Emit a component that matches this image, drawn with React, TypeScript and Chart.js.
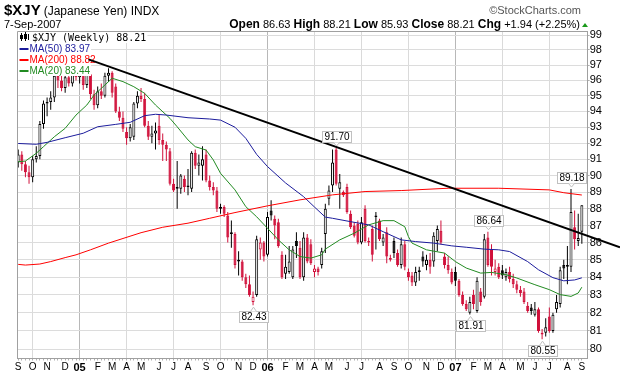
import React, { useEffect, useRef } from 'react';
import { Chart, registerables } from 'chart.js';

Chart.register(...registerables);

const symbol = '$XJY';
const symbolName = '(Japanese Yen) INDX';
const lastDate = '7-Sep-2007';
const weekStart = '2004-09-06';

const opens = [
  90.8, 91.3, 90.7, 90.2, 89.9, 91.0, 91.2, 93.2, 94.5, 94.6,
  94.9, 96.3, 96.0, 95.5, 96.2, 95.8, 96.7, 96.2, 97.2, 95.7,
  96.4, 95.1, 94.4, 95.3, 95.0, 96.3, 96.5, 95.6, 94.0, 93.6,
  92.7, 92.3, 92.4, 94.5, 95.0, 94.8, 93.1, 92.4, 92.6, 93.1,
  92.2, 91.9, 91.5, 89.5, 89.3, 89.2, 89.8, 89.3, 89.2, 91.4,
  90.6, 90.6, 91.3, 89.7, 89.3, 89.1, 88.0, 88.1, 87.6, 86.6,
  86.5, 85.0, 84.9, 84.0, 83.6, 82.6, 83.0, 85.6, 86.0, 85.3,
  87.9, 87.4, 87.2, 85.3, 84.2, 84.3, 84.0, 86.1, 85.7, 84.0,
  86.3, 85.9, 84.3, 84.5, 84.7, 86.5, 88.6, 89.4, 91.6, 89.2,
  89.0, 89.3, 87.7, 87.0, 87.1, 86.0, 88.0, 86.1, 86.8, 87.6,
  87.3, 86.0, 86.6, 85.1, 86.1, 85.4, 84.7, 85.9, 84.3, 84.1,
  83.7, 84.3, 85.2, 84.7, 85.0, 84.9, 86.1, 86.7, 85.2, 84.7,
  84.3, 84.3, 83.8, 83.0, 82.5, 82.0, 83.0, 82.1, 83.2, 82.9,
  86.3, 85.6, 84.3, 84.6, 84.4, 84.0, 84.3, 83.9, 83.6, 83.3,
  83.2, 82.4, 82.3, 81.9, 82.2, 80.9, 80.9, 81.8, 81.0, 82.2,
  82.5, 84.7, 84.6, 84.6, 86.9, 86.1, 86.63,
];
const highs = [
  91.6, 91.5, 90.9, 90.6, 91.2, 91.8, 93.4, 94.7, 94.9, 95.3,
  96.6, 96.9, 96.6, 96.4, 97.0, 96.9, 97.3, 97.6, 97.5, 96.8,
  96.6, 95.4, 95.6, 95.8, 96.5, 96.8, 96.6, 95.8, 94.3, 94.0,
  93.0, 93.2, 94.6, 95.3, 95.5, 95.2, 93.4, 93.1, 93.3, 93.8,
  92.6, 92.1, 91.7, 89.8, 90.9, 90.1, 90.0, 90.4, 91.5, 91.6,
  91.3, 91.8, 91.6, 90.0, 89.6, 89.3, 88.3, 88.2, 87.8, 87.3,
  86.6, 85.5, 85.0, 84.2, 84.1, 83.2, 86.4, 86.3, 86.1, 87.8,
  88.5, 87.6, 87.4, 85.5, 85.3, 85.8, 85.8, 86.6, 86.1, 86.6,
  86.5, 86.2, 84.7, 84.6, 85.7, 88.3, 89.4, 91.6, 91.7, 90.1,
  89.1, 89.5, 87.9, 87.2, 87.3, 87.5, 88.2, 86.3, 87.0, 87.8,
  87.4, 86.5, 86.9, 85.3, 86.3, 85.6, 86.3, 86.1, 84.5, 84.3,
  84.6, 84.6, 85.5, 85.3, 85.4, 86.6, 87.0, 87.3, 85.4, 85.2,
  84.5, 84.6, 83.9, 83.2, 82.7, 82.9, 83.3, 84.0, 83.4, 86.5,
  86.64, 85.9, 85.0, 84.8, 84.7, 84.5, 84.6, 84.2, 83.8, 83.5,
  83.4, 82.6, 82.5, 82.6, 82.3, 81.1, 81.7, 82.3, 82.0, 83.0,
  84.6, 85.0, 85.8, 89.18, 87.9, 87.7, 88.21,
];
const lows = [
  90.5, 90.3, 89.9, 89.5, 89.6, 90.8, 91.0, 92.9, 93.7, 94.1,
  94.6, 95.5, 95.3, 95.2, 95.6, 95.6, 96.0, 95.8, 95.4, 95.5,
  94.8, 94.1, 94.2, 94.8, 94.9, 95.9, 94.9, 93.9, 93.4, 92.7,
  91.9, 92.1, 92.2, 94.2, 94.6, 93.0, 92.2, 92.0, 91.6, 91.9,
  90.9, 90.9, 89.4, 89.0, 88.0, 88.9, 89.0, 88.8, 89.0, 90.4,
  90.0, 89.7, 89.6, 89.1, 88.8, 87.8, 87.7, 87.5, 86.0, 85.7,
  84.5, 84.1, 83.8, 83.4, 82.9, 82.43, 82.9, 85.0, 84.9, 85.2,
  87.3, 86.2, 85.7, 83.9, 83.9, 84.2, 83.9, 85.1, 83.9, 83.8,
  84.8, 84.7, 84.0, 84.1, 84.5, 85.4, 88.2, 89.0, 89.4, 88.0,
  88.7, 87.7, 86.8, 86.3, 85.9, 85.9, 86.0, 85.8, 84.9, 85.6,
  86.1, 85.8, 84.8, 84.9, 85.1, 84.6, 84.5, 84.4, 83.8, 83.5,
  83.5, 83.8, 84.6, 84.4, 84.2, 84.6, 85.5, 85.9, 84.5, 84.2,
  83.6, 83.5, 82.9, 82.4, 82.1, 81.91, 82.2, 82.0, 82.4, 82.8,
  84.6, 84.1, 84.1, 83.9, 83.9, 83.8, 83.7, 83.4, 83.1, 82.9,
  82.5, 82.0, 81.9, 81.8, 80.9, 80.55, 80.7, 80.9, 80.9, 82.0,
  82.3, 83.9, 83.6, 84.3, 85.6, 85.8, 85.93,
];
const closes = [
  91.3, 90.7, 90.2, 89.9, 91.0, 91.2, 93.2, 94.5, 94.6, 94.9,
  96.3, 96.0, 95.5, 96.2, 95.8, 96.7, 96.2, 97.2, 95.7, 96.4,
  95.1, 94.4, 95.3, 95.0, 96.3, 96.5, 95.2, 94.0, 93.6, 92.9,
  92.3, 93.0, 94.5, 95.0, 94.8, 93.1, 92.4, 92.6, 92.8, 92.2,
  91.9, 91.6, 89.5, 89.1, 89.2, 90.0, 89.3, 89.4, 91.4, 90.6,
  90.8, 91.0, 89.7, 89.3, 89.1, 88.0, 88.1, 87.7, 86.3, 86.5,
  84.7, 84.9, 84.0, 83.6, 83.0, 82.9, 86.2, 86.0, 85.2, 87.5,
  87.6, 87.0, 85.8, 84.0, 84.6, 84.9, 85.6, 85.8, 84.0, 86.3,
  84.9, 84.8, 84.5, 84.3, 85.5, 88.0, 89.1, 90.8, 89.5, 89.6,
  88.8, 87.8, 86.9, 86.4, 86.0, 87.2, 86.1, 86.0, 85.3, 87.5,
  86.2, 86.3, 85.2, 85.0, 85.4, 84.7, 85.9, 84.6, 84.0, 83.7,
  84.3, 84.4, 84.9, 85.0, 84.6, 86.4, 86.8, 86.0, 84.7, 84.4,
  83.7, 83.8, 83.0, 82.5, 82.2, 82.6, 82.5, 83.8, 82.6, 86.2,
  84.7, 84.6, 84.5, 84.0, 84.1, 84.3, 83.9, 83.6, 83.3, 83.1,
  82.6, 82.1, 82.1, 82.2, 81.0, 80.8, 81.2, 81.0, 81.9, 82.6,
  84.4, 84.5, 84.7, 87.8, 86.2, 86.27, 88.21,
];

// moving averages: [week index, value]
const ma50 = [
  [0, 91.98], [5, 91.93], [8, 92.05], [13, 92.34], [18, 92.62], [22, 93.03], [27, 93.18],
  [31, 93.31], [35, 93.73], [38, 93.82], [41, 93.77], [47, 93.6], [53, 93.52], [56, 93.45],
  [60, 93.0], [63, 92.3], [66, 91.3], [69, 90.55], [74, 89.55], [79, 88.72], [82, 88.1],
  [85, 87.5], [87, 87.43], [92, 87.23], [97, 87.04], [101, 86.64], [106, 86.16], [110, 86.06],
  [115, 85.97], [120, 85.81], [124, 85.73], [129, 85.62], [133, 85.58], [136, 85.48],
  [141, 84.9], [144, 84.43], [148, 83.98], [151, 83.8], [154, 83.85], [156, 83.97],
];
const ma200 = [
  [0, 84.74], [2, 84.7], [6, 84.76], [9, 84.9], [13, 85.13], [16, 85.29], [20, 85.58],
  [25, 85.97], [34, 86.58], [40, 86.9], [47, 87.14], [53, 87.43], [60, 87.77], [69, 88.17],
  [78, 88.53], [87, 88.83], [96, 89.03], [106, 89.09], [119, 89.23], [133, 89.23],
  [147, 89.13], [151, 88.96], [156, 88.82],
];
const ma20 = [
  [0, 90.85], [2, 90.89], [5, 91.37], [7, 91.78], [10, 92.4], [13, 92.93], [16, 93.77],
  [19, 94.41], [21, 95.05], [24, 95.7], [26, 96.14], [29, 95.92], [32, 95.59], [35, 95.16],
  [38, 94.41], [42, 93.56], [44, 93.03], [47, 92.2], [49, 91.78], [52, 91.57], [54, 90.96],
  [56, 90.14], [60, 89.13], [63, 88.12], [66, 87.52], [69, 86.84], [72, 86.16], [75, 85.58],
  [78, 85.19], [81, 85.1], [84, 85.29], [85, 85.62], [89, 86.16], [93, 86.55], [97, 87.04],
  [101, 87.29], [104, 87.29], [107, 86.93], [108, 86.35], [109, 85.97], [113, 85.58],
  [118, 85.39], [121, 84.9], [124, 84.53], [128, 84.24], [131, 84.28], [135, 84.15],
  [138, 83.96], [143, 83.58], [147, 83.3], [150, 83.02], [153, 82.92], [155, 83.11], [156, 83.44],
];
const trendLine = [[19.47, 97.38], [166.56, 85.73]];
const highTags = [88, 130, 153];
const lowTags = [65, 125, 145];
const yTickValues = [80, 81, 82, 83, 84, 85, 86, 87, 88, 89, 90, 91, 92, 93, 94, 95, 96, 97, 98, 99];
const monthInitials = ['J', 'F', 'M', 'A', 'M', 'J', 'J', 'A', 'S', 'O', 'N', 'D'];

const UP = '#000000';
const DOWN = '#d0103a';
const C50 = '#1c1c9c';
const C200 = '#ff0000';
const C20 = '#228b22';
const FONT = '"Liberation Sans", Arial, sans-serif';

const n = closes.length;
const candleColor = closes.map((c, i) => (i === 0 || c >= closes[i - 1] ? UP : DOWN));
const bodyFill = closes.map((c, i) => (c > opens[i] ? '#ffffff' : candleColor[i]));

const weekLabels: string[] = [];
const weekKind: number[] = []; // 0 none, 1 quarter, 2 year
(() => {
  const start = new Date(weekStart + 'T00:00:00Z').getTime();
  let prev = -1;
  for (let i = 0; i < n; i++) {
    const d = new Date(start + i * 7 * 86400000);
    const m = d.getUTCMonth();
    if (m !== prev) {
      weekLabels.push(m === 0 ? String(d.getUTCFullYear()).slice(2) : monthInitials[m]);
      weekKind.push(m === 0 ? 2 : m % 3 === 0 ? 1 : 0);
    } else {
      weekLabels.push('');
      weekKind.push(0);
    }
    prev = m;
  }
})();

const TREND_INDEX = 5;

function drawTag(ctx: CanvasRenderingContext2D, x: number, yv: number, text: string, above: boolean) {
  ctx.font = '10px ' + FONT;
  const w = Math.round(ctx.measureText(text).width + 4);
  const h = 11;
  const bx = Math.round(x - w / 2) + 0.5;
  const tip = above ? yv - 2 : yv + 2;
  const by = above ? Math.round(tip - 4 - h) + 0.5 : Math.round(tip + 4) + 0.5;
  ctx.fillStyle = '#ffffff';
  ctx.strokeStyle = '#c0c0c0';
  ctx.lineWidth = 1;
  ctx.fillRect(bx, by, w, h);
  ctx.strokeRect(bx, by, w, h);
  ctx.beginPath();
  if (above) {
    ctx.moveTo(x - 3, by + h);
    ctx.lineTo(x, tip);
    ctx.lineTo(x + 3, by + h);
  } else {
    ctx.moveTo(x - 3, by);
    ctx.lineTo(x, tip);
    ctx.lineTo(x + 3, by);
  }
  ctx.fill();
  ctx.stroke();
  ctx.fillStyle = '#000';
  ctx.textAlign = 'center';
  ctx.textBaseline = 'middle';
  ctx.fillText(text, bx + w / 2, by + h / 2 + 0.5);
}

function drawLegend(chart: any) {
  const ctx: CanvasRenderingContext2D = chart.ctx;
  const left = chart.chartArea.left;
  ctx.save();
  ctx.textBaseline = 'alphabetic';
  ctx.textAlign = 'left';
  const rows = [
    { text: `${symbol} (Weekly) ${closes[n - 1].toFixed(2)}`, color: '#000', mono: true },
    { text: `MA(50) ${ma50[ma50.length - 1][1].toFixed(2)}`, color: C50, mono: false },
    { text: `MA(200) ${ma200[ma200.length - 1][1].toFixed(2)}`, color: C200, mono: false },
    { text: `MA(20) ${ma20[ma20.length - 1][1].toFixed(2)}`, color: C20, mono: false },
  ];
  rows.forEach((r, k) => {
    const base = 41 + k * 11;
    ctx.font = r.mono ? '10px "DejaVu Sans Mono", monospace' : '10px ' + FONT;
    const tx = left + (r.mono ? 15 : 12.5);
    const tw = ctx.measureText(r.text).width;
    ctx.fillStyle = '#ffffff';
    ctx.fillRect(left + 1, base - 9, tx - left - 1 + tw + 1, 11);
    ctx.fillStyle = r.color;
    ctx.fillText(r.text, tx, base);
    if (k === 0) {
      ctx.fillStyle = '#000';
      ctx.fillRect(left + 4, base - 8, 1, 8);
      ctx.fillRect(left + 3, base - 6, 3, 4);
      ctx.fillRect(left + 8, base - 9, 1, 9);
      ctx.strokeStyle = '#000';
      ctx.lineWidth = 1;
      ctx.strokeRect(left + 7.5, base - 6.5, 2, 4);
      ctx.fillRect(left + 11, base - 7, 1, 6);
    } else {
      ctx.fillStyle = r.color;
      ctx.fillRect(left + 2.5, base - 4, 9, 2);
    }
  });
  ctx.restore();
}

const overlayPlugin = {
  id: 'overlay',
  beforeDatasetDraw(chart: any, args: any) {
    if (args.index === TREND_INDEX) drawLegend(chart);
  },
  afterDraw(chart: any) {
    const ctx: CanvasRenderingContext2D = chart.ctx;
    const { left, right, top, bottom } = chart.chartArea;
    const xs = chart.scales.x;
    const ys = chart.scales.y;
    ctx.save();
    ctx.strokeStyle = '#a0a0a0';
    ctx.lineWidth = 1;
    ctx.beginPath();
    ctx.moveTo(Math.round(left) + 0.5, bottom);
    ctx.lineTo(Math.round(left) + 0.5, Math.round(top) + 0.5);
    ctx.lineTo(right, Math.round(top) + 0.5);
    ctx.stroke();

    highTags.forEach((i) => drawTag(ctx, Math.round(xs.getPixelForValue(i)) + 0.5, ys.getPixelForValue(highs[i]), highs[i].toFixed(2), true));
    lowTags.forEach((i) => drawTag(ctx, Math.round(xs.getPixelForValue(i)) + 0.5, ys.getPixelForValue(lows[i]), lows[i].toFixed(2), false));

    ctx.textAlign = 'left';
    ctx.textBaseline = 'alphabetic';
    ctx.fillStyle = '#000';
    ctx.font = 'bold 15px ' + FONT;
    ctx.fillText(symbol, 4, 15);
    const sx = 4 + ctx.measureText(symbol).width + 3;
    ctx.font = '12px ' + FONT;
    ctx.fillText(symbolName, sx, 15);
    ctx.font = '11px ' + FONT;
    ctx.fillStyle = '#555';
    ctx.textAlign = 'right';
    ctx.fillText('\u00A9StockCharts.com', 581, 14);
    ctx.textAlign = 'left';
    ctx.fillStyle = '#000';
    ctx.font = '11px ' + FONT;
    ctx.fillText(lastDate, 4, 28);

    const o = opens[n - 1], h = highs[n - 1], l = lows[n - 1], c = closes[n - 1];
    const chg = c - closes[n - 2];
    const pct = (chg / closes[n - 2]) * 100;
    const sign = chg >= 0 ? '+' : '';
    const parts: [string, boolean][] = [
      ['Open', true], [` ${o.toFixed(2)} `, false],
      ['High', true], [` ${h.toFixed(2)} `, false],
      ['Low', true], [` ${l.toFixed(2)} `, false],
      ['Close', true], [` ${c.toFixed(2)} `, false],
      ['Chg', true], [` ${sign}${chg.toFixed(2)} (${sign}${pct.toFixed(2)}%)`, false],
    ];
    const fontOf = (b: boolean) => (b ? 'bold 12px ' : '11px ') + FONT;
    let total = 0;
    parts.forEach(([t, b]) => { ctx.font = fontOf(b); total += ctx.measureText(t).width; });
    let px = 580 - total;
    parts.forEach(([t, b]) => {
      ctx.font = fontOf(b);
      ctx.fillText(t, px, 28);
      px += ctx.measureText(t).width;
    });
    ctx.fillStyle = '#1a9a1a';
    ctx.beginPath();
    ctx.moveTo(582, 27);
    ctx.lineTo(588, 27);
    ctx.lineTo(585, 23);
    ctx.closePath();
    ctx.fill();
    ctx.restore();
  },
};

export default function App() {
  const ref = useRef<HTMLCanvasElement>(null);
  useEffect(() => {
    document.body.style.margin = '0';
    const wickData = closes.map((_, i) => ({ x: i, y: [lows[i], highs[i]] }));
    const bodyData = closes.map((c, i) => ({ x: i, y: [opens[i], c] }));
    const toXY = (arr: number[][]) => arr.map(([x, y]) => ({ x, y }));
    const chart = new Chart(ref.current as HTMLCanvasElement, {
      type: 'bar',
      data: {
        datasets: [
          {
            type: 'bar', data: wickData as any, backgroundColor: candleColor, borderWidth: 0,
            barThickness: 1, grouped: false, order: 5, minBarLength: 1, inflateAmount: 0,
          } as any,
          {
            type: 'bar', data: bodyData as any, backgroundColor: bodyFill, borderColor: candleColor,
            borderWidth: 1, borderSkipped: false, barThickness: 3, grouped: false, order: 4,
            minBarLength: 1, inflateAmount: 0,
          } as any,
          { type: 'line', data: toXY(ma200), borderColor: C200, borderWidth: 1, pointRadius: 0, order: 3 } as any,
          { type: 'line', data: toXY(ma50), borderColor: C50, borderWidth: 1, pointRadius: 0, order: 3 } as any,
          { type: 'line', data: toXY(ma20), borderColor: C20, borderWidth: 1, pointRadius: 0, order: 3 } as any,
          { type: 'line', data: toXY(trendLine), borderColor: '#000', borderWidth: 2, pointRadius: 0, order: 0, clip: false } as any,
        ],
      },
      options: {
        animation: false,
        responsive: false,
        devicePixelRatio: 1,
        events: [],
        layout: { padding: { left: 17, top: 31, right: 0, bottom: 0 } },
        plugins: { legend: { display: false }, tooltip: { enabled: false } },
        scales: {
          x: {
            type: 'linear',
            min: -0.33,
            max: 157.62,
            offset: false,
            afterBuildTicks: (s: any) => { s.ticks = closes.map((_, i) => ({ value: i })); },
            afterFit: (s: any) => { s.height = 17.5; },
            grid: {
              offset: false,
              color: (ctx: any) => {
                const k = weekKind[ctx.tick ? ctx.tick.value : -1];
                return k === 2 ? '#b8b8b8' : k === 1 ? '#dadada' : 'rgba(0,0,0,0)';
              },
              tickColor: '#b0b0b0',
              tickLength: 2,
              lineWidth: 1,
            },
            border: { display: true, color: '#a0a0a0' },
            ticks: {
              autoSkip: false,
              maxRotation: 0,
              minRotation: 0,
              padding: 1,
              color: '#000',
              font: (ctx: any) => {
                const k = ctx.tick ? weekKind[ctx.tick.value] : 0;
                return k === 2 ? { family: FONT, size: 11, weight: 'bold' } : { family: FONT, size: 10 };
              },
              callback: (v: any) => weekLabels[v] ?? '',
            },
          },
          y: {
            type: 'logarithmic',
            position: 'right',
            min: 79.5,
            max: 99.27,
            afterBuildTicks: (s: any) => { s.ticks = yTickValues.map((v) => ({ value: v })); },
            afterFit: (s: any) => { s.width = 32.3; },
            grid: { color: '#dcdcdc', tickColor: '#b0b0b0', tickLength: 2, lineWidth: 1 },
            border: { display: true, color: '#a0a0a0' },
            ticks: {
              autoSkip: false,
              padding: 0,
              color: '#000',
              font: { family: FONT, size: 11 },
              callback: (v: any) => String(v),
            },
          },
        },
      } as any,
      plugins: [overlayPlugin],
    });
    return () => chart.destroy();
  }, []);
  return <canvas ref={ref} width={620} height={376} style={{ display: 'block', width: 620, height: 376 }} />;
}
